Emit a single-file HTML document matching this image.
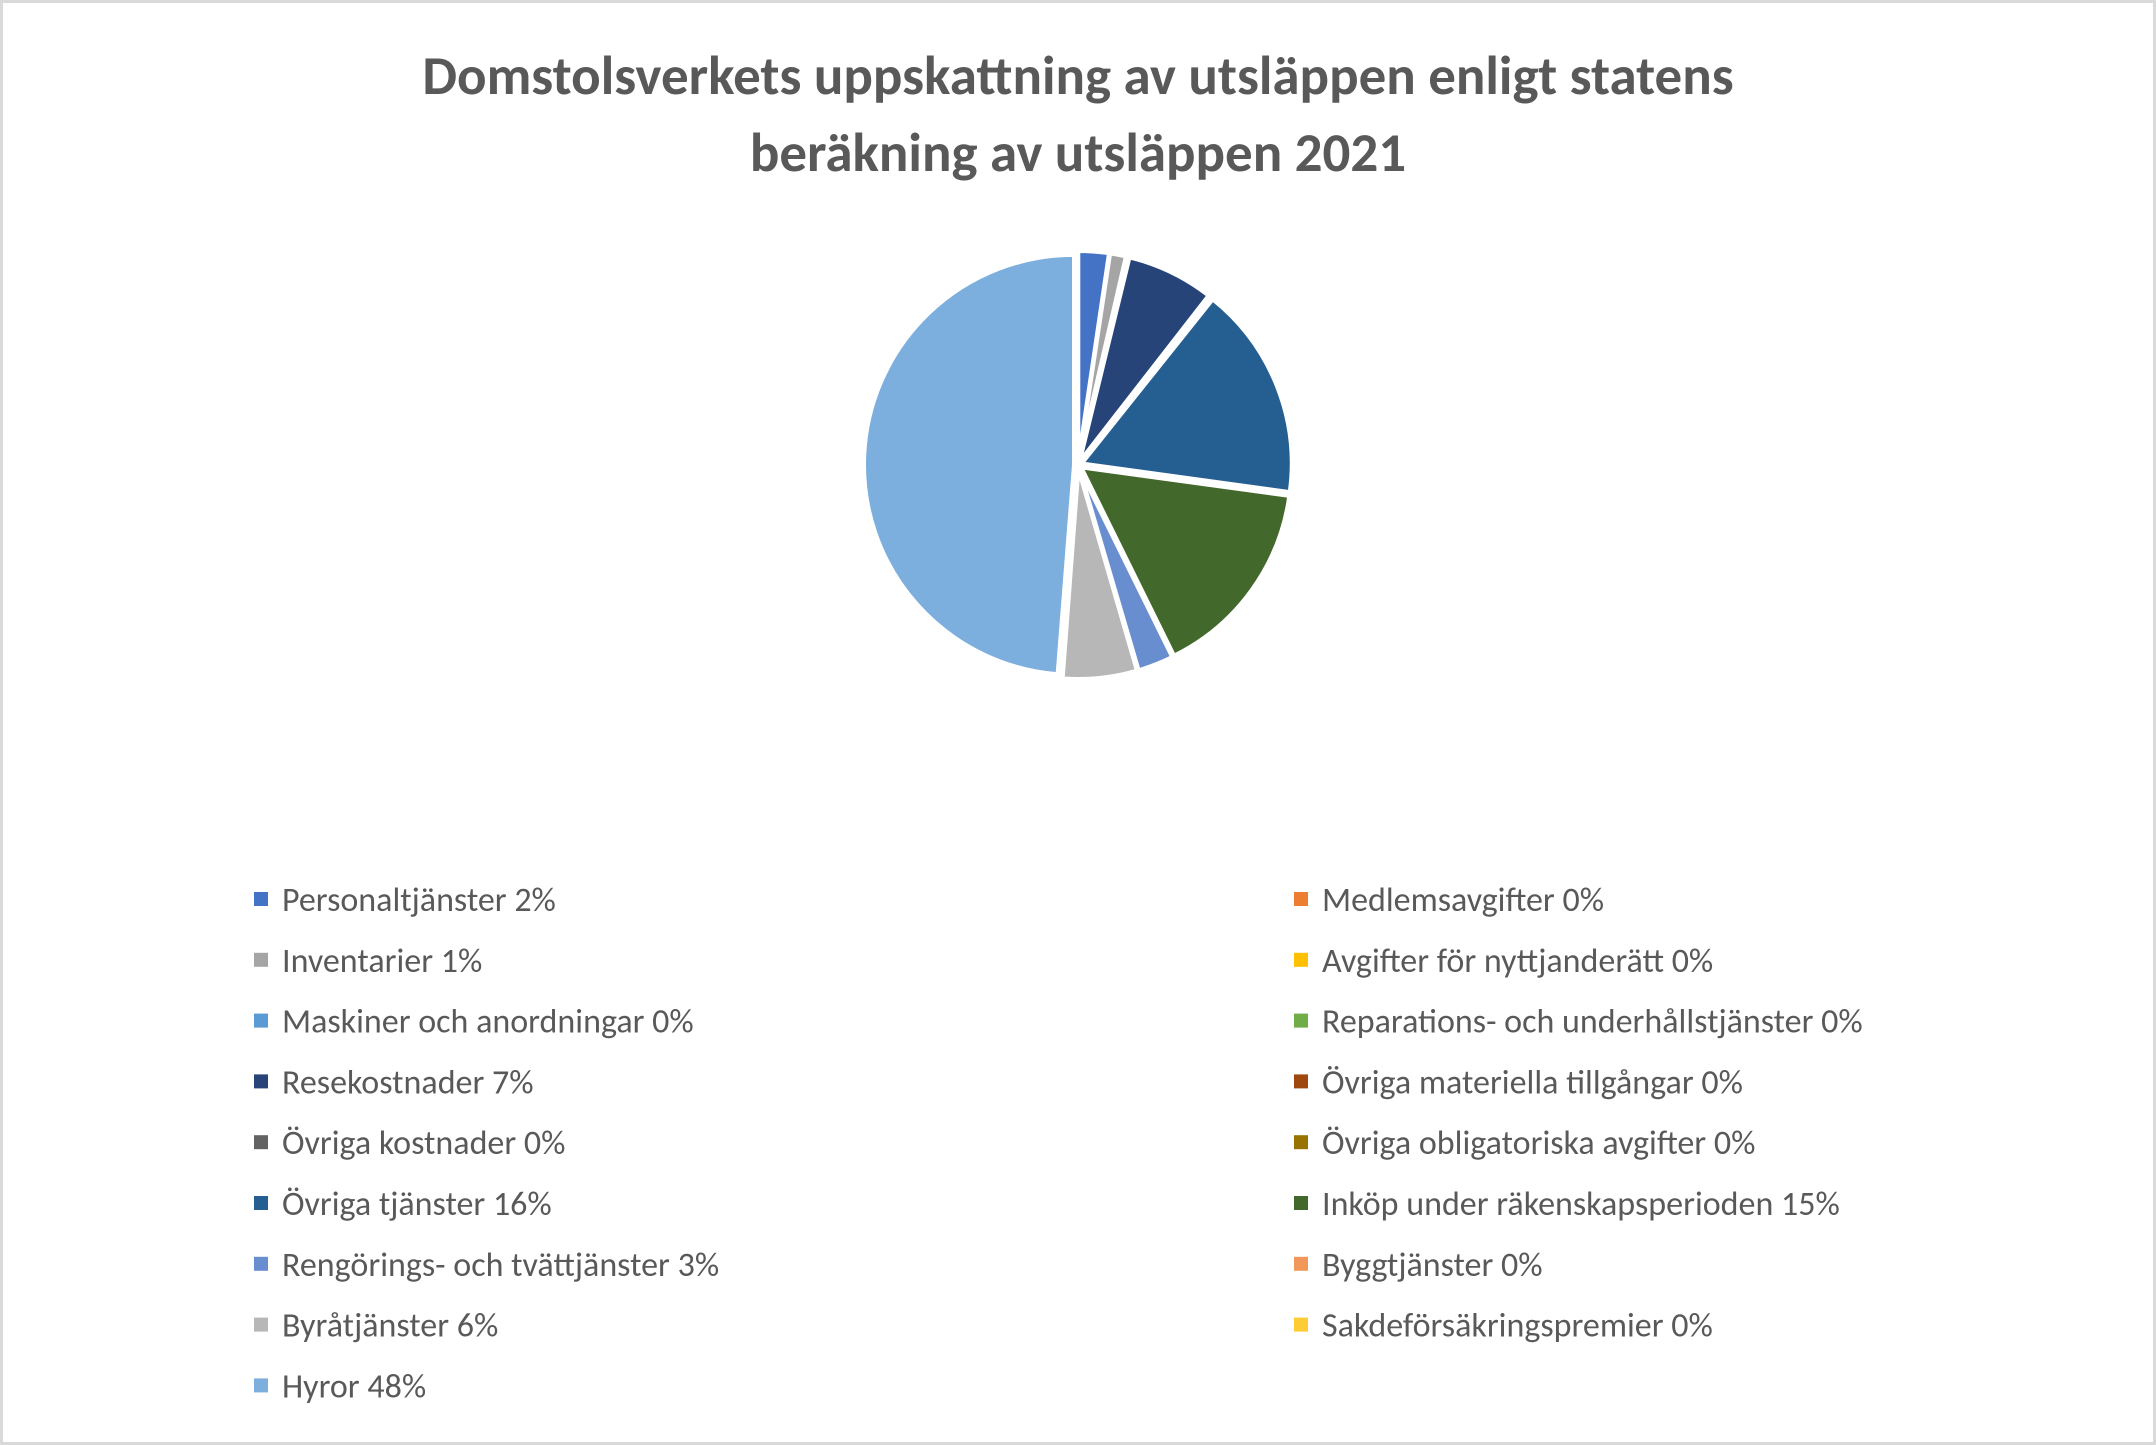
<!DOCTYPE html>
<html><head><meta charset="utf-8"><style>
html,body{margin:0;padding:0;background:#fff}
svg{display:block;font-family:"Calibri","Liberation Sans",sans-serif}
</style></head><body>
<svg id="chart" width="2156" height="1445" viewBox="0 0 2156 1445">
<rect x="1.5" y="1.5" width="2153" height="1442" fill="#fff" stroke="#d9d9d9" stroke-width="3"/>
<text x="1078" y="94" text-anchor="middle" font-size="55" font-weight="bold" fill="#595959">Domstolsverkets uppskattning av utsläppen enligt statens</text>
<text x="1078" y="171" text-anchor="middle" font-size="55" font-weight="bold" fill="#595959">beräkning av utsläppen 2021</text>
<g id="slices"></g>
<g id="legend"></g>
</svg>
<script>
const categories=["Personaltjänster","Medlemsavgifter","Inventarier","Avgifter för nyttjanderätt","Maskiner och anordningar","Reparations- och underhållstjänster","Resekostnader","Övriga materiella tillgångar","Övriga kostnader","Övriga obligatoriska avgifter","Övriga tjänster","Inköp under räkenskapsperioden","Rengörings- och tvättjänster","Byggtjänster","Byråtjänster","Sakdeförsäkringspremier","Hyror"];
const values=[2.3,0.05,1.2,0.05,0.1,0.05,6.6,0.05,0.1,0.05,16.2,15.3,2.7,0.05,5.6,0.05,48.0];
const labels=["2%","0%","1%","0%","0%","0%","7%","0%","0%","0%","16%","15%","3%","0%","6%","0%","48%"];
const colors=["#4472C4","#ED7D31","#A5A5A5","#FFC000","#5B9BD5","#70AD47","#264478","#9E480E","#636363","#997300","#255E91","#43682B","#698ED0","#F1975A","#B7B7B7","#FFCD33","#7CAFDD"];
const NS="http://www.w3.org/2000/svg";
const cx=1078,cy=465,r=210;
const total=values.reduce((a,b)=>a+b,0);
const gS=document.getElementById('slices');
let a0=0;
values.forEach((v,i)=>{
  const a1=a0+v/total*Math.PI*2;
  const mid=(a0+a1)/2, off=4;
  const ox=cx+off*Math.sin(mid), oy=cy-off*Math.cos(mid);
  const x0=ox+r*Math.sin(a0),y0=oy-r*Math.cos(a0),x1=ox+r*Math.sin(a1),y1=oy-r*Math.cos(a1);
  const p=document.createElementNS(NS,'path');
  p.setAttribute('d',`M${ox},${oy}L${x0},${y0}A${r},${r} 0 ${a1-a0>Math.PI?1:0} 1 ${x1},${y1}Z`);
  p.setAttribute('fill',colors[i]);p.setAttribute('stroke','#fff');p.setAttribute('stroke-width','4');
  
  
  gS.appendChild(p);
  a0=a1;
});
const gL=document.getElementById('legend');
categories.forEach((c,i)=>{
  const col=i%2,row=Math.floor(i/2);
  const x=col?1294:254,y=899+row*60.8;
  const g=document.createElementNS(NS,'g');
  
  
  const s=document.createElementNS(NS,'rect');
  s.setAttribute('x',x);s.setAttribute('y',y-7);s.setAttribute('width',14);s.setAttribute('height',14);s.setAttribute('fill',colors[i]);
  
  
  const t=document.createElementNS(NS,'text');
  t.setAttribute('x',x+28);t.setAttribute('y',y+12);t.setAttribute('font-size','34');t.setAttribute('fill','#595959');
  t.textContent=c+' '+labels[i];
  
  
  g.appendChild(s);g.appendChild(t);gL.appendChild(g);
});
</script>
</body></html>
